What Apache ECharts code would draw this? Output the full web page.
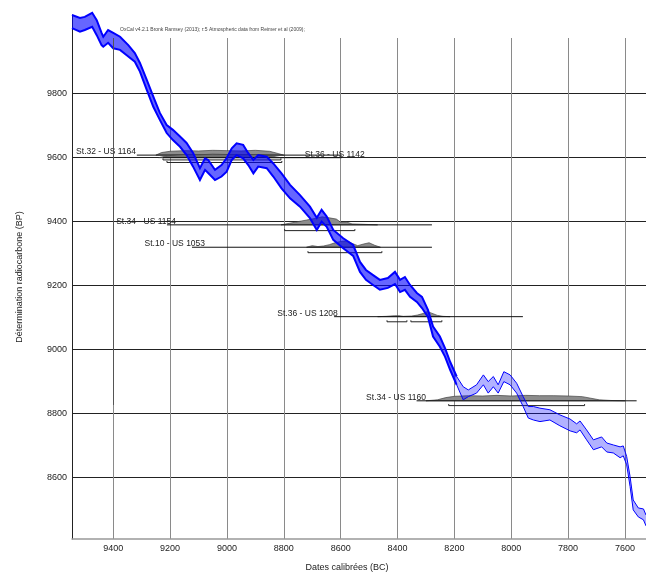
<!DOCTYPE html>
<html>
<head>
<meta charset="utf-8">
<script src="https://cdn.jsdelivr.net/npm/echarts@6/dist/echarts.min.js"></script>
<style>
  html, body { margin: 0; padding: 0; background: #fff; }
  #chart { width: 646px; height: 572px; }
</style>
</head>
<body>
<div id="chart"></div>
<script>
// axes
const xTicks = [9400, 9200, 9000, 8800, 8600, 8400, 8200, 8000, 7800, 7600]
const yTicks = [8600, 8800, 9000, 9200, 9400, 9600, 9800]

// calibration curve (1 sigma band), years BC / BP
const curveBC = [9545, 9517, 9500, 9474, 9458, 9441, 9435, 9418, 9400, 9376,
  9347, 9324, 9306, 9282, 9259, 9236, 9212, 9190, 9165, 9142,
  9119, 9095, 9077, 9066, 9042, 9019, 9001, 8983, 8966, 8943,
  8925, 8907, 8890, 8860, 8837, 8808, 8778, 8743, 8708, 8684,
  8667, 8649, 8626, 8591, 8556, 8532, 8511, 8486, 8462, 8434,
  8409, 8391, 8374, 8356, 8332, 8314, 8293, 8275, 8251, 8233,
  8215, 8192, 8169, 8151, 8122, 8098, 8081, 8063, 8046, 8026,
  8004, 7981, 7958, 7940, 7922, 7899, 7864, 7829, 7793, 7770,
  7758, 7735, 7711, 7682, 7664, 7641, 7617, 7606, 7594, 7582,
  7571, 7553, 7535, 7526]
const curveUp = [10046, 10037, 10040, 10053, 10030, 9990, 9978, 9999, 9990, 9978,
  9952, 9927, 9896, 9843, 9791, 9740, 9702, 9687, 9666, 9646,
  9615, 9567, 9598, 9593, 9562, 9577, 9599, 9629, 9645, 9640,
  9614, 9593, 9608, 9603, 9582, 9551, 9515, 9483, 9447, 9412,
  9437, 9416, 9374, 9348, 9327, 9274, 9249, 9233, 9218, 9224,
  9243, 9218, 9227, 9202, 9177, 9165, 9124, 9072, 9041, 9005,
  8962, 8916, 8884, 8874, 8890, 8921, 8900, 8916, 8890, 8931,
  8921, 8895, 8853, 8822, 8822, 8817, 8812, 8796, 8783, 8768,
  8777, 8749, 8718, 8727, 8708, 8702, 8696, 8699, 8666, 8603,
  8530, 8505, 8502, 8483]
const curveLo = [10005, 9994, 9999, 10009, 9983, 9952, 9947, 9959, 9942, 9937,
  9916, 9900, 9869, 9812, 9759, 9718, 9677, 9655, 9634, 9608,
  9572, 9530, 9562, 9552, 9530, 9541, 9556, 9593, 9608, 9598,
  9577, 9551, 9572, 9567, 9541, 9504, 9473, 9447, 9411, 9374,
  9400, 9384, 9343, 9317, 9293, 9243, 9218, 9202, 9187, 9193,
  9205, 9180, 9187, 9165, 9149, 9130, 9102, 9041, 9009, 8978,
  8937, 8890, 8843, 8853, 8864, 8890, 8864, 8884, 8864, 8900,
  8890, 8864, 8822, 8786, 8780, 8775, 8780, 8762, 8746, 8740,
  8749, 8718, 8687, 8696, 8680, 8677, 8662, 8668, 8640, 8572,
  8499, 8477, 8468, 8449]
const lightFrom = 8192 // lighter shading from here on

// samples
const sampleNames = ['St.32 - US 1164', 'St.36 - US 1142', 'St.34 - US 1154', 'St.10 - US 1053', 'St.36 - US 1208', 'St.34 - US 1160']
const sampleBP = [9608, 9600, 9390, 9320, 9103, 8840]
const lineFrom = [9317, 9225, 9211, 9123, 8623, 8333]
const lineTo = [8596, 8596, 8279, 8279, 7959, 7559]
const labelBC = [9320, 8726, 9179, 9077, 8610, 8300]

const dist1164BC = [9250, 9230, 9200, 9150, 9100, 9050, 9000, 8950, 8900, 8850, 8820, 8800]
const dist1164H = [0, 8, 12, 14, 13, 15, 14, 13, 15, 12, 5, 0]
const dist1142BC = [9240, 9210, 9150, 9100, 9050, 9000, 8950, 8900, 8850, 8810]
const dist1142H = [0, 6, 10, 9, 11, 10, 9, 10, 6, 0]
const dist1154BC = [8810, 8780, 8750, 8720, 8690, 8665, 8640, 8615, 8600, 8580, 8560, 8530, 8500, 8470]
const dist1154H = [0, 5, 10, 15, 20, 25, 22, 18, 8, 9, 3, 2, 1, 0]
const dist1053BC = [8720, 8700, 8680, 8660, 8640, 8620, 8600, 8580, 8560, 8540, 8520, 8500, 8480, 8460]
const dist1053H = [0, 5, 2, 4, 8, 14, 18, 20, 12, 5, 10, 14, 6, 0]
const dist1208BC = [8470, 8440, 8410, 8395, 8380, 8350, 8330, 8310, 8295, 8280, 8260, 8240, 8215]
const dist1208H = [0, 1, 3, 3, 1, 2, 5, 10, 16, 11, 4, 1, 0]
const dist1160BC = [8300, 8260, 8230, 8200, 8150, 8100, 8050, 8000, 7950, 7900, 7850, 7800, 7750, 7720, 7690, 7650, 7600]
const dist1160H = [0, 3, 10, 14, 16, 15, 17, 15, 17, 16, 16, 15, 13, 8, 3, 1, 0]
const distBC = [dist1164BC, dist1142BC, dist1154BC, dist1053BC, dist1208BC, dist1160BC]
const distH = [dist1164H, dist1142H, dist1154H, dist1053H, dist1208H, dist1160H]

// 95.4% ranges
const rangeBP = [9585, 9593, 9372, 9303, 9087, 8825]
const rangeFrom = [[9211], [9225], [8797], [8715], [8437, 8353], [8220]]
const rangeTo = [[8807], [8810], [8550], [8455], [8367, 8244], [7742]]

const chart = echarts.init(document.getElementById('chart'))

function bandGroup(api, i0, i1, fill, lineWidth) {
  const up = [], lo = []
  for (let i = i0; i <= i1; i++) {
    up.push(api.coord([curveBC[i], curveUp[i]]))
    lo.push(api.coord([curveBC[i], curveLo[i]]))
  }
  return [
    { type: 'polygon', shape: { points: up.concat(lo.slice().reverse()) }, style: { fill: fill } },
    { type: 'polyline', shape: { points: up }, style: { stroke: '#0000ff', lineWidth: lineWidth, fill: 'none' } },
    { type: 'polyline', shape: { points: lo }, style: { stroke: '#0000ff', lineWidth: lineWidth, fill: 'none' } }
  ]
}

const split = curveBC.findIndex(v => v <= lightFrom)

const option = {
  animation: false,
  textStyle: { fontFamily: 'Liberation Sans' },
  grid: { left: 72, right: 0, top: 15, bottom: 33, outerBoundsMode: 'none', containLabel: false },
  xAxis: {
    type: 'value',
    inverse: true,
    min: 7526,
    max: 9545,
    name: 'Dates calibrées (BC)',
    nameLocation: 'middle',
    nameGap: 24,
    nameTextStyle: { fontSize: 9, color: '#222', padding: [0, 24, 0, 0] },
    axisLine: { lineStyle: { color: '#999', width: 1.5 } },
    axisTick: { show: false, customValues: xTicks },
    axisLabel: { customValues: xTicks, fontSize: 9, color: '#222', margin: 5, formatter: v => String(v) },
    splitLine: { show: true, lineStyle: { color: '#8a8a8a', width: 1 } }
  },
  yAxis: {
    type: 'value',
    min: 8408,
    max: 10046,
    name: 'Détermination radiocarbone (BP)',
    nameLocation: 'middle',
    nameGap: 48,
    nameTextStyle: { fontSize: 9, color: '#222' },
    axisLine: { lineStyle: { color: '#222', width: 1 } },
    axisTick: { show: false, customValues: yTicks },
    axisLabel: { customValues: yTicks, fontSize: 9, color: '#222', margin: 5, formatter: v => String(v) },
    splitLine: { show: true, lineStyle: { color: '#222', width: 1 } }
  },
  graphic: [
    { type: 'rect', left: 73, top: 15, shape: { width: 573, height: 23 }, style: { fill: '#fff' }, z: 1 },
    {
      type: 'text', left: 120, top: 27, z: 3,
      style: { text: 'OxCal v4.2.1 Bronk Ramsey (2013); r:5 Atmospheric data from Reimer et al (2009);', font: '5px "Liberation Sans"', fill: '#444' }
    }
  ],
  series: [
    {
      type: 'custom',
      z: 3,
      data: sampleNames.map((n, i) => [lineFrom[i], sampleBP[i]]),
      encode: { x: 0, y: 1 },
      renderItem: (params, api) => {
        const i = params.dataIndex
        const base = sampleBP[i]
        const children = []
        const pts = distBC[i].map((x, k) => api.coord([x, base + distH[i][k]]))
        children.push({ type: 'polygon', shape: { points: pts }, style: { fill: i === 1 ? '#6e6e6e' : '#8c8c8c', stroke: '#444', lineWidth: 0.7 } })
        const a = api.coord([lineFrom[i], base])
        const b = api.coord([lineTo[i], base])
        children.push({ type: 'line', shape: { x1: a[0], y1: a[1], x2: b[0], y2: b[1] }, style: { stroke: '#111', lineWidth: 1 } })
        rangeFrom[i].forEach((f, k) => {
          const p = api.coord([f, rangeBP[i]])
          const q = api.coord([rangeTo[i][k], rangeBP[i]])
          children.push({ type: 'polyline', shape: { points: [[p[0], p[1] - 1.5], [p[0], p[1]], [q[0], q[1]], [q[0], q[1] - 1.5]] }, style: { stroke: '#222', lineWidth: 1, fill: 'none' } })
        })
        const t = api.coord([labelBC[i], base])
        children.push({
          type: 'text', x: t[0], y: t[1] + 1,
          style: { text: sampleNames[i], align: i === 1 ? 'left' : 'right', verticalAlign: 'bottom', font: '8.5px "Liberation Sans"', fill: '#222' }
        })
        return { type: 'group', children: children }
      }
    },
    {
      type: 'custom',
      z: 4,
      data: [[curveBC[0], curveUp[0]]],
      encode: { x: 0, y: 1 },
      renderItem: (params, api) => {
        const children = bandGroup(api, 0, split, 'rgba(0,0,255,0.6)', 2)
          .concat(bandGroup(api, split, curveBC.length - 1, 'rgba(0,0,255,0.3)', 1))
        return { type: 'group', children: children }
      }
    },
    {
      type: 'line',
      data: [],
      markLine: {
        silent: true,
        symbol: 'none',
        label: { show: false },
        lineStyle: { color: '#555', width: 1, type: 'solid' },
        data: [[{ coord: [9400, 9974] }, { coord: [9400, 8827] }]]
      }
    }
  ]
}

chart.setOption(option)
</script>
</body>
</html>
